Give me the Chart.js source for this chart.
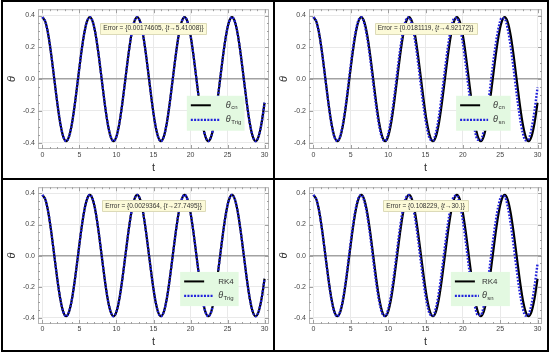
<!DOCTYPE html>
<html>
<head>
<meta charset="utf-8">
<script src="https://cdn.jsdelivr.net/npm/chart.js@4.4.0/dist/chart.umd.min.js"></script>
<style>
  html, body { margin: 0; padding: 0; background: #fff; }
  #wrap { position: relative; width: 550px; height: 357px; overflow: hidden; background: #fff; }
  canvas { position: absolute; }
  .ln { position: absolute; background: #000; }
</style>
</head>
<body>
<div id="wrap">
  <canvas id="c1" width="270" height="176" style="left:3px;top:2px"></canvas>
  <canvas id="c2" width="272" height="176" style="left:275px;top:2px"></canvas>
  <canvas id="c3" width="270" height="170" style="left:3px;top:180px"></canvas>
  <canvas id="c4" width="272" height="170" style="left:275px;top:180px"></canvas>
  <div class="ln" style="left:1px;top:0;width:548px;height:2px"></div>
  <div class="ln" style="left:1px;top:350px;width:548px;height:2px"></div>
  <div class="ln" style="left:1px;top:0;width:2px;height:352px"></div>
  <div class="ln" style="left:547px;top:0;width:2px;height:352px"></div>
  <div class="ln" style="left:273px;top:0;width:2px;height:352px"></div>
  <div class="ln" style="left:1px;top:178px;width:548px;height:2px"></div>
</div>
<script>
// time samples (s)
const tValues = [0, 0.4, 0.8, 1.2, 1.6, 2, 2.4, 2.8, 3.2, 3.6, 4, 4.4, 4.8, 5.2, 5.6, 6,
  6.4, 6.8, 7.2, 7.6, 8, 8.4, 8.8, 9.2, 9.6, 10, 10.4, 10.8, 11.2, 11.6, 12, 12.4,
  12.8, 13.2, 13.6, 14, 14.4, 14.8, 15.2, 15.6, 16, 16.4, 16.8, 17.2, 17.6, 18, 18.4, 18.8,
  19.2, 19.6, 20, 20.4, 20.8, 21.2, 21.6, 22, 22.4, 22.8, 23.2, 23.6, 24, 24.4, 24.8, 25.2,
  25.6, 26, 26.4, 26.8, 27.2, 27.6, 28, 28.4, 28.8, 29.2, 29.6, 30];

const thetaCn = [0.39, 0.36, 0.276, 0.149, 0, -0.149, -0.276, -0.36, -0.39, -0.36, -0.276, -0.149, 0, 0.149, 0.276, 0.36,
  0.39, 0.36, 0.276, 0.149, 0, -0.149, -0.276, -0.36, -0.39, -0.36, -0.276, -0.149, 0, 0.149, 0.276, 0.36,
  0.39, 0.36, 0.276, 0.149, 0, -0.149, -0.276, -0.36, -0.39, -0.36, -0.276, -0.149, 0, 0.149, 0.276, 0.36,
  0.39, 0.36, 0.276, 0.149, 0, -0.149, -0.276, -0.36, -0.39, -0.36, -0.276, -0.149, 0, 0.149, 0.276, 0.36,
  0.39, 0.36, 0.276, 0.149, 0, -0.149, -0.276, -0.36, -0.39, -0.36, -0.276, -0.149];

const thetaTrig = [0.39, 0.36, 0.276, 0.149, 0, -0.149, -0.276, -0.36, -0.39, -0.36, -0.276, -0.149, 0, 0.149, 0.276, 0.36,
  0.39, 0.36, 0.276, 0.149, 0, -0.149, -0.276, -0.36, -0.39, -0.36, -0.276, -0.149, 0, 0.149, 0.276, 0.36,
  0.39, 0.36, 0.276, 0.149, 0, -0.149, -0.276, -0.36, -0.39, -0.36, -0.276, -0.149, 0, 0.149, 0.276, 0.36,
  0.39, 0.36, 0.276, 0.149, 0, -0.149, -0.276, -0.36, -0.39, -0.36, -0.276, -0.149, 0, 0.149, 0.276, 0.36,
  0.39, 0.36, 0.276, 0.149, 0, -0.149, -0.276, -0.36, -0.39, -0.36, -0.276, -0.149];

const rk4 = [0.39, 0.36, 0.276, 0.149, 0, -0.149, -0.276, -0.36, -0.39, -0.36, -0.276, -0.149, 0, 0.149, 0.276, 0.36,
  0.39, 0.36, 0.276, 0.149, 0, -0.149, -0.276, -0.36, -0.39, -0.36, -0.276, -0.149, 0, 0.149, 0.276, 0.36,
  0.39, 0.36, 0.276, 0.149, 0, -0.149, -0.276, -0.36, -0.39, -0.36, -0.276, -0.149, 0, 0.149, 0.276, 0.36,
  0.39, 0.36, 0.276, 0.149, 0, -0.149, -0.276, -0.36, -0.39, -0.36, -0.276, -0.149, 0, 0.149, 0.276, 0.36,
  0.39, 0.36, 0.276, 0.149, 0, -0.149, -0.276, -0.36, -0.39, -0.36, -0.276, -0.149];

const thetaSn = [0.39, 0.36, 0.274, 0.146, -0.005, -0.155, -0.282, -0.364, -0.39, -0.356, -0.266, -0.136, 0.016, 0.165, 0.289, 0.367,
  0.389, 0.351, 0.258, 0.126, -0.027, -0.175, -0.295, -0.371, -0.389, -0.346, -0.25, -0.116, 0.037, 0.184, 0.302, 0.374,
  0.388, 0.341, 0.243, 0.105, -0.048, -0.193, -0.309, -0.377, -0.386, -0.336, -0.234, -0.095, 0.058, 0.203, 0.315, 0.379,
  0.385, 0.331, 0.225, 0.085, -0.069, -0.211, -0.322, -0.382, -0.383, -0.325, -0.216, -0.074, 0.079, 0.22, 0.327, 0.384,
  0.381, 0.319, 0.207, 0.064, -0.089, -0.229, -0.333, -0.386, -0.378, -0.313, -0.198, -0.053];

const xTickValues = [0, 5, 10, 15, 20, 25, 30];
const yTickValues = [-0.4, -0.2, 0, 0.2, 0.4];
const yTickLabels = ["-0.4", "-0.2", "0.0", "0.2", "0.4"];

const legendNames = [
  [["θ", "cn"], ["θ", "Trig"]],
  [["θ", "cn"], ["θ", "sn"]],
  [["RK4"], ["θ", "Trig"]],
  [["RK4"], ["θ", "sn"]],
];

const errorTexts = [
  ["Error = {0.00174605, {", "t", "→5.41008}}"],
  ["Error = {0.0181119, {", "t", "→4.92172}}"],
  ["Error = {0.0029364, {", "t", "→27.7495}}"],
  ["Error = {0.108229, {", "t", "→30.}}"],
];

const FONT = '"Liberation Sans", Arial, sans-serif';
const BLUE = "rgb(34, 34, 220)";

const panels = [
  { id: "c1", black: thetaCn, blue: thetaTrig, n: 0, box: [19.5, 27.3], labelOff: 39, dashEnd: 33,
    top: 5, right: 4, yW: 35, xH: 29, titlePad: 3.4, tickPad: 2 },
  { id: "c2", black: thetaCn, blue: thetaSn, n: 1, box: [19.1, 26.4], labelOff: 37, dashEnd: 32,
    top: 4, right: 5, yW: 34, xH: 29, titlePad: 3.4, tickPad: 2 },
  { id: "c3", black: rk4, blue: thetaTrig, n: 2, box: [18.6, 26.5], labelOff: 38, dashEnd: 33,
    top: 3, right: 4, yW: 35, xH: 26, titlePad: 1.9, tickPad: 1 },
  { id: "c4", black: rk4, blue: thetaSn, n: 3, box: [18.4, 26.3], labelOff: 31, dashEnd: 28,
    top: 3, right: 5, yW: 34, xH: 26, titlePad: 1.9, tickPad: 1 },
];

const toPoints = arr => tValues.map((t, i) => ({ x: t, y: arr[i] }));

const drawName = (ctx, parts, x, y) => {
  ctx.fillStyle = "#333";
  if (parts.length === 1) {
    ctx.font = "8px " + FONT;
    ctx.fillText(parts[0], x, y);
    return;
  }
  ctx.font = "italic 9px " + FONT;
  ctx.fillText(parts[0], x, y);
  const w = ctx.measureText(parts[0]).width;
  ctx.font = "6px " + FONT;
  ctx.fillText(parts[1], x + w + 0.5, y + 2.5);
};

const drawExtras = (chart, p) => {
  const { ctx, chartArea: a } = chart;
  const xs = chart.scales.x, ys = chart.scales.y;
  ctx.save();

  // frame + frame ticks
  ctx.strokeStyle = "#b4b4b4";
  ctx.lineWidth = 1;
  ctx.strokeRect(a.left + 0.5, a.top + 0.5, a.right - a.left - 1, a.bottom - a.top - 1);
  ctx.strokeStyle = "#a0a0a0";
  ctx.beginPath();
  for (let v = 0; v <= 30; v++) {
    const px = Math.round(xs.getPixelForValue(v)) + 0.5;
    const len = v % 5 === 0 ? 4 : 2;
    ctx.moveTo(px, a.bottom); ctx.lineTo(px, a.bottom - len);
    ctx.moveTo(px, a.top); ctx.lineTo(px, a.top + len);
  }
  for (let i = -8; i <= 8; i++) {
    const py = Math.round(ys.getPixelForValue(i * 0.05)) + 0.5;
    const len = i % 4 === 0 ? 4 : 2;
    ctx.moveTo(a.left, py); ctx.lineTo(a.left + len, py);
    ctx.moveTo(a.right, py); ctx.lineTo(a.right - len, py);
  }
  ctx.stroke();

  // error label
  const parts = errorTexts[p.n];
  const fonts = ["6.5px " + FONT, "italic 6.5px " + FONT, "6.5px " + FONT];
  const widths = parts.map((s, i) => { ctx.font = fonts[i]; return ctx.measureText(s).width; });
  const tw = widths.reduce((s, w) => s + w, 0);
  const cx = xs.getPixelForValue(15), cy = ys.getPixelForValue(0.32);
  ctx.fillStyle = "#fcfad8";
  ctx.strokeStyle = "#dcdab8";
  ctx.beginPath();
  ctx.rect(Math.round(cx - tw / 2 - 3) + 0.5, Math.round(cy - 5.5) + 0.5, Math.round(tw + 6), 11);
  ctx.fill(); ctx.stroke();
  ctx.fillStyle = "#333";
  ctx.textBaseline = "middle";
  let tx = cx - tw / 2;
  parts.forEach((s, i) => { ctx.font = fonts[i]; ctx.fillText(s, tx, cy); tx += widths[i]; });

  // legend
  const bx0 = xs.getPixelForValue(p.box[0]), bx1 = xs.getPixelForValue(p.box[1]);
  const by0 = ys.getPixelForValue(-0.105), by1 = ys.getPixelForValue(-0.325);
  ctx.fillStyle = "#e3f9e1";
  ctx.fillRect(bx0, by0, bx1 - bx0, by1 - by0);
  const r1 = by0 + 9.5, r2 = by0 + 24;
  ctx.lineWidth = 2;
  ctx.strokeStyle = "#000";
  ctx.beginPath(); ctx.moveTo(bx0 + 4, r1); ctx.lineTo(bx0 + 24, r1); ctx.stroke();
  ctx.strokeStyle = BLUE;
  ctx.lineWidth = 2.2;
  ctx.setLineDash([2, 1.3]);
  ctx.beginPath(); ctx.moveTo(bx0 + 4, r2); ctx.lineTo(bx0 + p.dashEnd, r2); ctx.stroke();
  ctx.setLineDash([]);
  drawName(ctx, legendNames[p.n][0], bx0 + p.labelOff, r1);
  drawName(ctx, legendNames[p.n][1], bx0 + p.labelOff, r2);

  ctx.restore();
};

const makePanel = p => {
  new Chart(document.getElementById(p.id), {
    type: "line",
    data: {
      datasets: [
        {
          label: "blue",
          data: toPoints(p.blue),
          borderColor: BLUE,
          borderWidth: 2.4,
          borderDash: [1.7, 1.6],
          pointRadius: 0,
          cubicInterpolationMode: "monotone",
          order: 0
        },
        {
          label: "black",
          data: toPoints(p.black),
          borderColor: "#000",
          borderWidth: 2.2,
          pointRadius: 0,
          cubicInterpolationMode: "monotone",
          order: 1
        },
      ]
    },
    options: {
      responsive: false,
      animation: false,
      devicePixelRatio: 1,
      layout: { padding: { top: p.top, right: p.right, left: 0, bottom: 0 } },
      plugins: { legend: { display: false }, tooltip: { enabled: false } },
      scales: {
        x: {
          type: "linear",
          min: -0.6,
          max: 30.6,
          afterBuildTicks: s => { s.ticks = xTickValues.map(v => ({ value: v })); },
          afterFit: s => { s.height = p.xH; },
          grid: { color: "#e9e9e9", lineWidth: 1, drawTicks: false },
          border: { display: false },
          ticks: { color: "#444", font: { family: FONT, size: 7 }, padding: p.tickPad, maxRotation: 0 },
          title: { display: true, text: "t", color: "#333", font: { family: FONT, size: 11 },
                   padding: { top: 0, bottom: p.titlePad } }
        },
        y: {
          type: "linear",
          min: -0.44,
          max: 0.44,
          afterBuildTicks: s => { s.ticks = yTickValues.map(v => ({ value: v })); },
          afterFit: s => { s.width = p.yW; },
          grid: {
            color: c => (c.tick && c.tick.value === 0 ? "#a2a2a2" : "#e9e9e9"),
            lineWidth: c => (c.tick && c.tick.value === 0 ? 1.4 : 1),
            drawTicks: false
          },
          border: { display: false },
          ticks: {
            color: "#444",
            font: { family: FONT, size: 7 },
            padding: 3,
            callback: v => yTickLabels[yTickValues.indexOf(v)]
          },
          title: { display: true, text: "θ", color: "#333", font: { family: FONT, size: 11, style: "italic" },
                   padding: { top: 2, bottom: 0 } }
        }
      }
    },
    plugins: [{ id: "extras", afterDraw: chart => drawExtras(chart, p) }]
  });
};

panels.forEach(makePanel);
</script>
</body>
</html>
